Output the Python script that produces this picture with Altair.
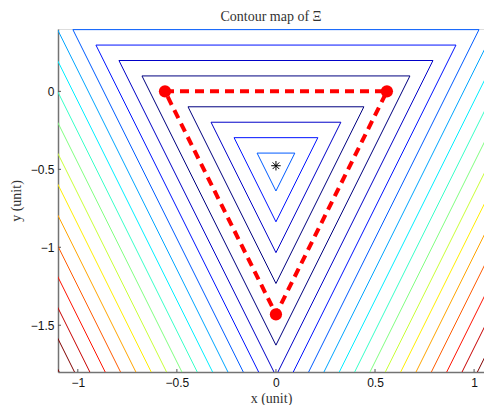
import altair as alt
import pandas as pd

# ---- data ----
vert_x = [-0.56, 0.56, 0.0]          # red vertices (x)
vert_y = [0.0, 0.0, -1.43]           # red vertices (y)
star_x = [0.0]                        # centre marker
star_y = [-0.477]
levels = [-4, -3, -2, -1] + list(range(1, 17))   # contour level index
level_step = 0.2075                   # relative scale step between levels
x_ticks = [-1, -0.5, 0, 0.5, 1]
y_ticks = [-1.5, -1, -0.5, 0]
x_domain = [-1.1, 1.05]
y_domain = [-1.8, 0.4]
max_level = 15


def jet(v):
    v = min(max(v, 0.0), 1.0)
    r = min(max(1.5 - abs(4 * v - 3), 0), 1)
    g = min(max(1.5 - abs(4 * v - 2), 0), 1)
    b = min(max(1.5 - abs(4 * v - 1), 0), 1)
    return "#%02x%02x%02x" % (round(r * 255), round(g * 255), round(b * 255))


cx, cy = star_x[0], star_y[0]
rows = []
for k in levels:
    t = 1 + k * level_step
    col = jet((abs(k) - 1) / (max_level - 1))
    for i, j in enumerate([0, 1, 2, 0]):
        rows.append({"level": k, "ord": i,
                     "x": cx + t * (vert_x[j] - cx),
                     "y": cy + t * (vert_y[j] - cy),
                     "col": col})
contours = pd.DataFrame(rows)

tri = pd.DataFrame({"x": vert_x + [vert_x[0]], "y": vert_y + [vert_y[0]],
                    "ord": [0, 1, 2, 3]})
pts = pd.DataFrame({"x": vert_x, "y": vert_y})
star = pd.DataFrame({"x": star_x, "y": star_y})
xt = pd.DataFrame({"v": x_ticks})
yt = pd.DataFrame({"v": y_ticks})

W, H = 426, 343
xs = alt.Scale(domain=x_domain, nice=False, zero=False)
ys = alt.Scale(domain=y_domain, nice=False, zero=False)

axis_common = dict(domainColor="#737373", domainWidth=1.5, ticks=False, tickSize=0,
                   grid=False, labelFont="Liberation Sans", labelFontSize=12,
                   labelColor="#111", titleFont="Liberation Serif", titleFontSize=14,
                   titleFontWeight="normal", titleColor="#333", format="~g")

xaxis = alt.Axis(values=x_ticks, title="x (unit)", labelPadding=5, titlePadding=3,
                 **axis_common)
yaxis = alt.Axis(values=y_ticks, title="y (unit)", labelPadding=4, titlePadding=7,
                 **axis_common)

cont = alt.Chart(contours).mark_line(strokeWidth=1, clip=True).encode(
    x=alt.X("x:Q", scale=xs, axis=xaxis),
    y=alt.Y("y:Q", scale=ys, axis=yaxis),
    detail="level:N",
    order="ord:Q",
    color=alt.Color("col:N", scale=None),
)

red_line = alt.Chart(tri).mark_line(color="#ff0000", strokeWidth=4,
                                     strokeDash=[9, 6], clip=True).encode(
    x=alt.X("x:Q", scale=xs), y=alt.Y("y:Q", scale=ys), order="ord:Q")

red_pts = alt.Chart(pts).mark_point(filled=True, color="#ff0000", size=150,
                                     opacity=1, shape="circle").encode(
    x=alt.X("x:Q", scale=xs), y=alt.Y("y:Q", scale=ys))

star_mark = alt.Chart(star).mark_point(
    shape="M-1,0L1,0M0,-1L0,1M-0.7,-0.7L0.7,0.7M-0.7,0.7L0.7,-0.7",
    filled=False, color="#000000", strokeWidth=1, size=90, opacity=1).encode(
    x=alt.X("x:Q", scale=xs), y=alt.Y("y:Q", scale=ys))

xtick_marks = alt.Chart(xt).mark_rule(color="#555", strokeWidth=1).encode(
    x=alt.X("v:Q", scale=xs), y=alt.value(H), y2=alt.value(H - 3))
ytick_marks = alt.Chart(yt).mark_rule(color="#555", strokeWidth=1).encode(
    y=alt.Y("v:Q", scale=ys), x=alt.value(0), x2=alt.value(3))

chart = alt.layer(cont, red_line, red_pts, star_mark, xtick_marks, ytick_marks).properties(
    width=W, height=H,
    title=alt.TitleParams("Contour map of Ξ", font="Liberation Serif", fontSize=14,
                          fontWeight="normal", color="#333", offset=5, anchor="middle"),
    autosize=alt.AutoSizeParams(type="none"),
    padding={"left": 50, "top": 21, "right": 0, "bottom": 33},
).configure_view(strokeWidth=0).configure(background="white")

chart.save("out.html", embed_options={"renderer": "svg", "actions": False})
